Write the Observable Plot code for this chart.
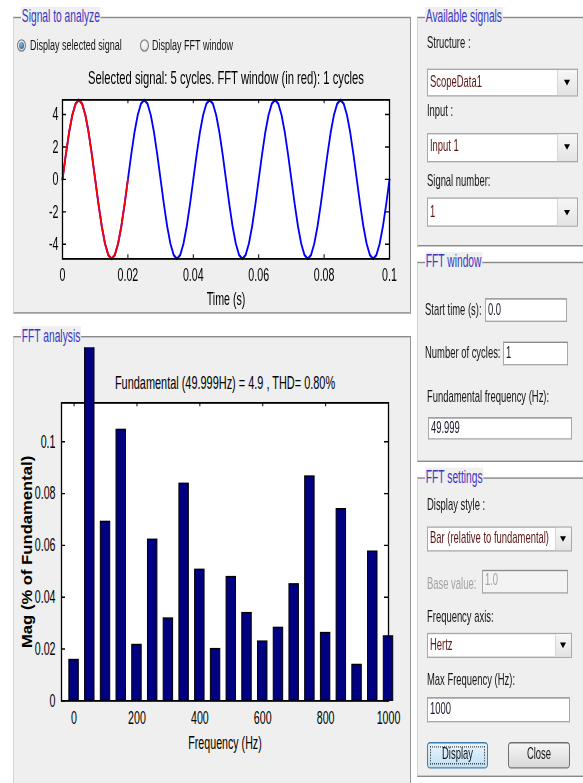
<!DOCTYPE html>
<html><head><meta charset="utf-8">
<script src="https://cdn.jsdelivr.net/npm/d3@7"></script>
<script src="https://cdn.jsdelivr.net/npm/@observablehq/plot@0.6"></script>
<style>
html,body{margin:0;padding:0;background:#fff;overflow:hidden;width:583px;height:783px;}
#root{position:relative;width:583px;height:559.29px;transform:scaleY(1.4);transform-origin:0 0;color:#151515;}
#root div{box-sizing:border-box;}
</style></head><body><div id="root"></div><script>
// ---------------- data ----------------
const timeTicks = [0, 0.02, 0.04, 0.06, 0.08, 0.1];
const voltTicks = [-4, -2, 0, 2, 4];
const sampleStep = 0.001; // s
const signalVolts = [
  0, 1.51, 2.88, 3.96, 4.66, 4.9, 4.66, 3.96, 2.88, 1.51, 0, -1.51, -2.88, -3.96, -4.66, -4.9, -4.66, -3.96, -2.88, -1.51,
  0, 1.51, 2.88, 3.96, 4.66, 4.9, 4.66, 3.96, 2.88, 1.51, 0, -1.51, -2.88, -3.96, -4.66, -4.9, -4.66, -3.96, -2.88, -1.51,
  0, 1.51, 2.88, 3.96, 4.66, 4.9, 4.66, 3.96, 2.88, 1.51, 0, -1.51, -2.88, -3.96, -4.66, -4.9, -4.66, -3.96, -2.88, -1.51,
  0, 1.51, 2.88, 3.96, 4.66, 4.9, 4.66, 3.96, 2.88, 1.51, 0, -1.51, -2.88, -3.96, -4.66, -4.9, -4.66, -3.96, -2.88, -1.51,
  0, 1.51, 2.88, 3.96, 4.66, 4.9, 4.66, 3.96, 2.88, 1.51, 0, -1.51, -2.88, -3.96, -4.66, -4.9, -4.66, -3.96, -2.88, -1.51,
  0
];
const fftWindowSamples = 21; // first cycle (0 .. 0.02 s)

const harmonicFreqHz = [0, 50, 100, 150, 200, 250, 300, 350, 400, 450, 500, 550, 600, 650, 700, 750, 800, 850, 900, 950, 1000];
const harmonicMagPct = [0.0157, 100, 0.069, 0.1045, 0.0215, 0.0621, 0.0317, 0.0837, 0.0505, 0.0199, 0.0477, 0.0338, 0.0228, 0.0281, 0.0449, 0.0865, 0.0261, 0.0739, 0.0138, 0.0575, 0.0248];
const freqTicks = [0, 200, 400, 600, 800, 1000];
const magTicks = [0, 0.02, 0.04, 0.06, 0.08, 0.1];

const topTitle = "Selected signal: 5 cycles. FFT window (in red): 1 cycles";
const fftTitle = "Fundamental (49.999Hz) = 4.9 , THD= 0.80%";
const magLabel = "Mag (% of Fundamental)";

// ---------------- layout helpers ----------------
const S = 1.4;   // vertical stretch of the whole window
const K = 0.82;  // horizontal condensing of glyphs
const FONT = '"Liberation Sans",Arial,sans-serif';
const root = document.getElementById("root");
root.style.fontFamily = FONT;
function add(x, y, w, h, style = {}, text) {
  const e = document.createElement("div");
  Object.assign(e.style, {position: "absolute", left: x + "px", top: (y / S) + "px"});
  if (w != null) e.style.width = w + "px";
  if (h != null) e.style.height = (h / S) + "px";
  Object.assign(e.style, style);
  if (text != null) e.textContent = text;
  root.appendChild(e);
  return e;
}
function label(x, yc, text, size = 11.5, style = {}) {
  const lh = size * 1.2;
  return add(x, yc - lh * S / 2, null, null, {fontSize: size + "px", lineHeight: lh + "px", whiteSpace: "nowrap", transform: `scaleX(${K})`, transformOrigin: "0 50%", ...style}, text);
}
function group(x1, y1, x2, y2, title) {
  add(x1, y1, x2 - x1, y2 - y1, {background: "#efefef", borderTop: "1px solid #8a8a8a", borderLeft: "1px solid #d4d4d4", borderRight: "1px solid #969696", borderBottom: "1px solid #8a8a8a"});
  label(x1 + 8, y1, title, 12.5, {color: "#3a36c4", background: "#efefef", padding: "0 1px"});
}
function radio(cx, cy, checked) {
  const d = 9;
  add(cx - d / 2, cy - d * S / 2, d, d * S, {borderRadius: "50%", border: "1px solid #7c7c7c", background: "radial-gradient(circle at 40% 35%, #ffffff, #d4d4d4)"});
  if (checked) add(cx - 2.5, cy - 2.5 * S, 5, 5 * S, {borderRadius: "50%", background: "radial-gradient(circle at 40% 35%, #7dbbe6, #1c4a7c)"});
}
function dropdown(x1, y1, x2, y2, ax1, text) {
  add(x1, y1, x2 - x1, y2 - y1, {background: "#fff", border: "1px solid #a9a9a9"});
  add(ax1, y1 + 1.4, x2 - 1 - ax1, y2 - y1 - 2.8, {background: "linear-gradient(#f7f7f7,#e3e3e3)", borderLeft: "1px solid #d6d6d6"});
  const ac = (ax1 + x2) / 2, ay = (y1 + y2) / 2;
  add(ac - 3.5, ay - 2 * S, 0, 0, {borderLeft: "3.5px solid transparent", borderRight: "3.5px solid transparent", borderTop: "4px solid #000"});
  label(x1 + 3, ay, text, 11.5, {color: "#5a1414"});
}
function edit(x1, y1, x2, y2, text, disabled) {
  add(x1, y1, x2 - x1, y2 - y1, {background: disabled ? "#f3f3f3" : "#fff", border: "1px solid #a8a8a8", borderTopColor: "#8c8c8c"});
  label(x1 + 3, (y1 + y2) / 2, text, 11.5, {color: disabled ? "#a3a3a3" : "#1a1a30"});
}
function button(x1, y1, x2, y2, text, focused) {
  add(x1, y1, x2 - x1, y2 - y1, {background: focused ? "linear-gradient(#e8f5fd,#bfe0f5)" : "linear-gradient(#f5f5f5,#d9d9d9)", border: focused ? "1px solid #3c7fb1" : "1px solid #707070", borderRadius: "3px"});
  if (focused) add(x1 + 3, y1 + 3.5, x2 - x1 - 6, y2 - y1 - 7, {border: "1px dotted #4a4a4a"});
  label(x1, (y1 + y2) / 2, text, 11.5, {width: (x2 - x1) + "px", textAlign: "center", transformOrigin: "50% 50%"});
}
// condense the glyphs of every svg text (after the svg is in the document)
const condenseFactor = {[topTitle]: 0.9, [fftTitle]: 0.875};
function condense(svg) {
  svg.querySelectorAll("text").forEach(t => {
    const len = t.getComputedTextLength();
    const k = condenseFactor[t.textContent] ?? K;
    if (len > 0) {
      t.setAttribute("textLength", (len * k).toFixed(2));
      t.setAttribute("lengthAdjust", "spacingAndGlyphs");
    }
  });
}

// ---------------- GUI chrome ----------------
group(13, 17, 411, 314, "Signal to analyze");
group(13, 336, 411, 800, "FFT analysis");
group(417, 17, 600, 247, "Available signals");
group(417, 262, 600, 462, "FFT window");
group(417, 478, 600, 777, "FFT settings");

radio(21, 45, true);
label(30, 45, "Display selected signal", 11);
radio(144, 45, false);
label(152, 45, "Display FFT window", 11);

label(427, 43, "Structure :");
dropdown(427, 68, 578, 97, 557, "ScopeData1");
label(427, 112, "Input :");
dropdown(427, 133, 578, 162, 557, "Input 1");
label(427, 182, "Signal number:");
dropdown(427, 198, 578, 227, 557, "1");

label(425, 310, "Start time (s):");
edit(485, 298, 567, 322, "0.0");
label(425, 354, "Number of cycles:");
edit(503, 342, 568, 365, "1");
label(427, 397, "Fundamental frequency (Hz):");
edit(428, 417, 572, 440, "49.999");

label(427, 505, "Display style :");
dropdown(427, 527, 572, 552, 555, "Bar (relative to fundamental)");
label(427, 585, "Base value:", 11.5, {color: "#a3a3a3"});
edit(482, 570, 568, 593, "1.0", true);
label(427, 617, "Frequency axis:");
dropdown(427, 633, 572, 658, 555, "Hertz");
label(427, 680, "Max Frequency (Hz):");
edit(427, 697, 570, 722, "1000");
button(427, 742, 488, 768, "Display", true);
button(508, 742, 570, 768, "Close", false);

// ---------------- charts ----------------
const plotStyle = {background: "transparent", overflow: "hidden", fontFamily: FONT, fontSize: "13px", color: "black", display: "block"};
const tickLen = 4;

// Top chart: time signal
{
  const svgTop = 60, svgBottom = 312, frameTop = 99, frameBottom = 258;
  const H = (svgBottom - svgTop) / S, mt = (frameTop - svgTop) / S, mb = (svgBottom - frameBottom) / S;
  const ml = 62, mr = 22, W = 411;
  const innerH = H - mt - mb, innerW = W - ml - mr;
  const sig = signalVolts.map((v, i) => ({t: i * sampleStep, v}));
  const chart = Plot.plot({
    width: W, height: H, marginLeft: ml, marginRight: mr, marginTop: mt, marginBottom: mb,
    x: {domain: [0, 0.1]},
    y: {domain: [-4.9, 4.9]},
    style: plotStyle,
    marks: [
      Plot.frame({fill: "white"}),
      Plot.line(sig, {x: "t", y: "v", stroke: "#0000ff", strokeWidth: 1.8}),
      Plot.line(sig.slice(0, fftWindowSamples), {x: "t", y: "v", stroke: "#ff0000", strokeWidth: 1.8}),
      Plot.tickX(timeTicks, {x: d => d, insetTop: innerH - tickLen / S, stroke: "black"}),
      Plot.tickX(timeTicks, {x: d => d, insetBottom: innerH - tickLen / S, stroke: "black"}),
      Plot.tickY(voltTicks, {y: d => d, insetRight: innerW - tickLen, stroke: "black"}),
      Plot.tickY(voltTicks, {y: d => d, insetLeft: innerW - tickLen, stroke: "black"}),
      Plot.frame({stroke: "black", strokeWidth: 1.3}),
      Plot.axisX({ticks: timeTicks, tickSize: 0, tickPadding: 6.8, tickFormat: d => String(d), label: null, fontSize: 13}),
      Plot.axisY({ticks: voltTicks, tickSize: 0, tickPadding: 4, tickFormat: d => String(d), label: null, fontSize: 13}),
      Plot.text([topTitle], {text: d => d, frameAnchor: "top", textAnchor: "middle", lineAnchor: "middle", dy: -(frameTop - 77) / S, fontSize: 12.5}),
      Plot.text(["Time (s)"], {text: d => d, frameAnchor: "bottom", textAnchor: "middle", lineAnchor: "middle", dy: (298 - frameBottom) / S, fontSize: 13})
    ]
  });
  const holder = add(0, svgTop, W, svgBottom - svgTop, {});
  holder.appendChild(chart);
  condense(chart);
}

// Bottom chart: FFT bars
{
  const svgTop = 347, svgBottom = 760, frameTop = 402, frameBottom = 700;
  const H = (svgBottom - svgTop) / S, mt = (frameTop - svgTop) / S, mb = (svgBottom - frameBottom) / S;
  const ml = 61, mr = 23, W = 411;
  const innerH = H - mt - mb, innerW = W - ml - mr;
  const barHalf = 15; // Hz
  const bars = harmonicFreqHz.map((f, i) => ({f, mag: harmonicMagPct[i]}));
  const chart = Plot.plot({
    width: W, height: H, marginLeft: ml, marginRight: mr, marginTop: mt, marginBottom: mb,
    x: {domain: [-40, 1000]},
    y: {domain: [0, 0.115]},
    style: plotStyle,
    marks: [
      Plot.frame({fill: "white"}),
      Plot.tickX(freqTicks, {x: d => d, insetTop: innerH - tickLen / S, stroke: "black"}),
      Plot.tickX(freqTicks, {x: d => d, insetBottom: innerH - tickLen / S, stroke: "black"}),
      Plot.tickY(magTicks, {y: d => d, insetRight: innerW - tickLen, stroke: "black"}),
      Plot.tickY(magTicks, {y: d => d, insetLeft: innerW - tickLen, stroke: "black"}),
      Plot.frame({stroke: "black", strokeWidth: 1.3}),
      Plot.rect(bars, {x1: d => d.f - barHalf, x2: d => d.f + barHalf, y1: 0, y2: "mag", fill: "#000080", stroke: "black", strokeWidth: 1}),
      Plot.axisX({ticks: freqTicks, tickSize: 0, tickPadding: 7.5, tickFormat: d => String(d), label: null, fontSize: 13}),
      Plot.axisY({ticks: magTicks, tickSize: 0, tickPadding: 6, tickFormat: d => String(d), label: null, fontSize: 13}),
      Plot.text([fftTitle], {text: d => d, frameAnchor: "top", textAnchor: "middle", lineAnchor: "middle", dy: -(frameTop - 382) / S, fontSize: 12.5}),
      Plot.text(["Frequency (Hz)"], {text: d => d, frameAnchor: "bottom", textAnchor: "middle", lineAnchor: "middle", dy: (742 - frameBottom) / S, fontSize: 13}),
      Plot.text([magLabel], {text: d => d, frameAnchor: "left", textAnchor: "middle", lineAnchor: "middle", dx: 27 - ml, rotate: -90, fontSize: 14.5, fontWeight: "bold"})
    ]
  });
  const holder = add(0, svgTop, W, svgBottom - svgTop, {});
  holder.appendChild(chart);
  condense(chart);
}
</script></body></html>
